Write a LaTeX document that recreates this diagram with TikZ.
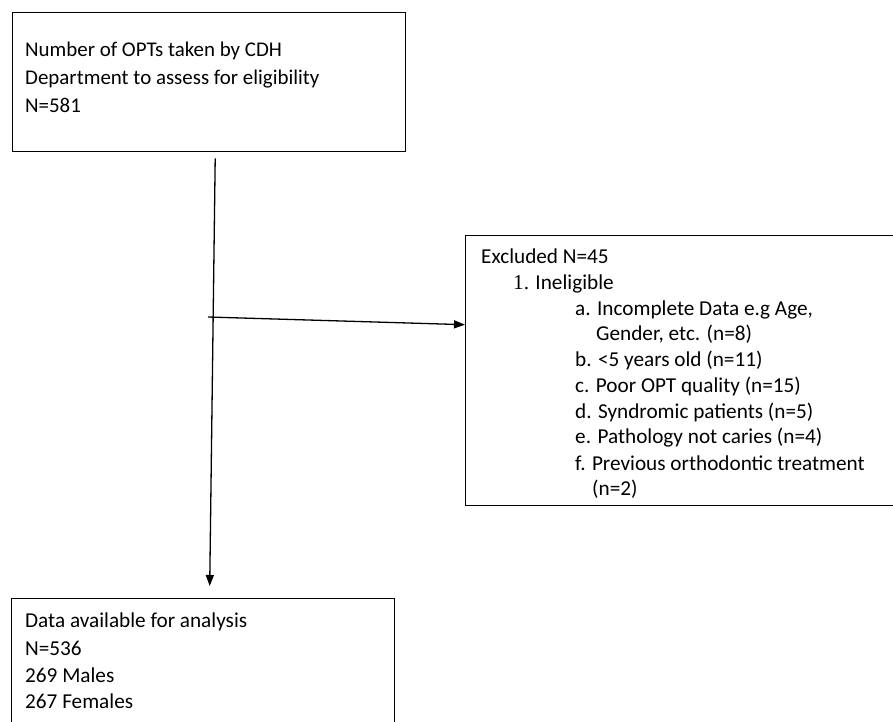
\documentclass[tikz,border=0pt]{standalone}
\usepackage{fontspec}
\setmainfont{Carlito}
\newfontfamily\numserif{Liberation Serif}
\usetikzlibrary{arrows.meta}
\begin{document}
\begin{tikzpicture}[x=1bp,y=-1bp,
  box/.style={draw, line width=1.4bp, inner sep=0, anchor=north west},
  ta/.style={anchor=base west, inner sep=0, font=\fontsize{21}{25}\selectfont},
  tb/.style={anchor=base west, inner sep=0, font=\fontsize{21.3}{25}\selectfont},
  tc/.style={anchor=base west, inner sep=0, font=\fontsize{21.3}{25}\selectfont},
  arr/.style={line width=1.3bp, -{Triangle[length=11bp,width=8bp]}}]
\useasboundingbox (0,0) rectangle (893,722);
% boxes
\node[box, minimum width=393bp, minimum height=139bp] (top) at (12,12) {};
\node[box, minimum width=440bp, minimum height=270bp] (excl) at (465,235) {};
\node[box, minimum width=383bp, minimum height=150bp] (bot) at (11,598) {};
% top text
\node[ta] (t1) at (25,57) {Number of OPTs taken by CDH};
\node[ta] (t2) at (25,85) {Department to assess for eligibility};
\node[ta] (t3) at (25,113) {N=581};
% excluded text
\node[tb] (e0) at (481,263) {Excluded N=45};
\node[tb] (e1) at (513,289) {{\numserif 1.}\hspace{0.3em}Ineligible};
\node[tb] (ea) at (575,315) {a. Incomplete Data e.g Age,};
\node[tb] (ea2) at (596,340) {Gender, etc. (n=8)};
\node[tb] (eb) at (575,366) {b. {<}5 years old (n=11)};
\node[tb] (ec) at (575,392) {c. Poor OPT quality (n=15)};
\node[tb] (ed) at (575,418) {d. Syndromic patients (n=5)};
\node[tb] (ee) at (575,443) {e. Pathology not caries (n=4)};
\node[tb] (ef) at (575,470) {f. Previous orthodontic treatment};
\node[tb] (ef2) at (592,495) {(n=2)};
% bottom text
\node[tc] (b1) at (25,627) {Data available for analysis};
\node[tc] (b2) at (25,655) {N=536};
\node[tc] (b3) at (25,682) {269 Males};
\node[tc] (b4) at (25,708) {267 Females};
% connectors
\coordinate (vs) at ([xshift=6bp,yshift=-6bp]top.south);
\coordinate (ve) at ([xshift=6.5bp,yshift=12bp]bot.north);
\draw[arr] (vs) -- (ve);
\coordinate (hs) at (208,317);
\coordinate (he) at ([yshift=46bp]excl.west);
\draw[arr] (hs) -- (he);
\end{tikzpicture}
\end{document}
